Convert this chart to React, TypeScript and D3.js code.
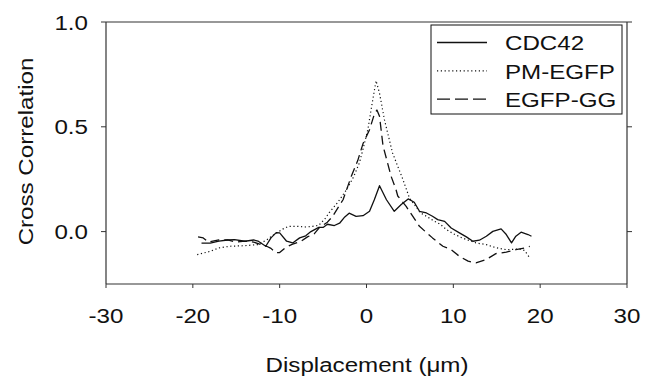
import React from "react";
import * as d3 from "d3";

const xTicks = [-30, -20, -10, 0, 10, 20, 30];
const yTicks = [0, 0.5, 1.0];
const yTickLabels = ["0.0", "0.5", "1.0"];
const seriesNames = ["CDC42", "PM-EGFP", "EGFP-GG"];

const cdc42X = [-19, -18, -17, -16, -15.2, -14, -13, -12.5, -11.6, -11, -10.4, -10, -9.2, -8.5, -7.7, -7, -6.4, -5.5, -5, -4.5, -3.7, -3.1, -2.5, -2, -1.2, -0.4, 0.35, 0.9, 1.5, 2.3, 3.2, 4, 4.8, 5.5, 6.1, 6.9, 7.6, 8.2, 9, 9.75, 10.7, 11.5, 12.25, 13, 13.8, 14.55, 15.5, 16.1, 16.7, 17.2, 17.8, 18.6, 19];
const cdc42Y = [-0.055, -0.055, -0.045, -0.04, -0.038, -0.046, -0.04, -0.045, -0.07, -0.03, -0.005, -0.006, -0.046, -0.054, -0.03, -0.02, 0.0, 0.02, 0.02, 0.035, 0.029, 0.04, 0.07, 0.088, 0.073, 0.076, 0.097, 0.152, 0.219, 0.152, 0.097, 0.129, 0.156, 0.14, 0.097, 0.089, 0.073, 0.057, 0.049, 0.017, -0.006, -0.025, -0.046, -0.041, -0.022, 0.001, 0.013, -0.014, -0.054, -0.022, -0.003, -0.014, -0.022];

const pmX = [-19.5, -18, -17, -15.8, -14, -12.5, -11.5, -10.5, -9.6, -9, -8, -7, -6.2, -5.5, -4.8, -4.3, -3.3, -2.3, -1.5, -0.8, -0.3, 0.15, 0.6, 1.1, 1.5, 2.07, 3.0, 4.2, 4.95, 5.5, 6.2, 6.9, 7.8, 8.5, 9.2, 10, 11, 12, 12.6, 13.8, 14.9, 16.1, 17.6, 18.2, 18.8];
const pmY = [-0.11, -0.094, -0.078, -0.07, -0.067, -0.062, -0.04, -0.01, 0.013, 0.025, 0.025, 0.022, 0.025, 0.03, 0.06, 0.09, 0.14, 0.2, 0.26, 0.33, 0.41, 0.486, 0.6, 0.72, 0.66, 0.533, 0.375, 0.248, 0.16, 0.13, 0.09, 0.073, 0.05, 0.035, 0.01, -0.01, -0.03, -0.045, -0.054, -0.062, -0.077, -0.086, -0.083, -0.09, -0.125];

const ggX = [-19.4, -18.8, -18.2, -17.7, -17, -16, -15, -14, -13, -12.3, -11.5, -11, -10.5, -10, -9.3, -8.5, -7.5, -6.8, -6, -5.4, -4.5, -3.9, -2.7, -1.76, -1, -0.4, 0.35, 0.9, 1.2, 1.5, 1.9, 2.84, 3.4, 3.6, 4.57, 6.1, 7.6, 8.8, 9.75, 10.7, 11.7, 12.6, 13.8, 14.9, 16.1, 17.2, 18.2, 18.8];
const ggY = [-0.025, -0.03, -0.05, -0.045, -0.04, -0.04, -0.05, -0.045, -0.05, -0.06, -0.07, -0.08, -0.1, -0.1, -0.075, -0.06, -0.045, -0.025, -0.01, 0.02, 0.045, 0.073, 0.152, 0.263, 0.34, 0.42, 0.486, 0.56, 0.58, 0.55, 0.41, 0.263, 0.2, 0.17, 0.12, 0.025, -0.03, -0.07, -0.086, -0.118, -0.141, -0.149, -0.133, -0.105, -0.098, -0.086, -0.078, -0.07];

const W = 653;
const H = 380;
const FONT = "'Liberation Sans', Arial, Helvetica, sans-serif";
const SX = 1.15;

export default function App() {
  const x = d3.scaleLinear().domain([-30, 30]).range([106, 627]);
  const y = d3.scaleLinear().domain([-0.25, 1.0]).range([284, 22]);
  const line = d3
    .line<[number, number]>()
    .x((d) => x(d[0]))
    .y((d) => y(d[1]));

  const series = [
    { name: seriesNames[0], xs: cdc42X, ys: cdc42Y, dash: undefined as string | undefined, w: 1.3 },
    { name: seriesNames[1], xs: pmX, ys: pmY, dash: "1.2,2.6", w: 1.2 },
    { name: seriesNames[2], xs: ggX, ys: ggY, dash: "9,5", w: 1.3 },
  ];

  const [x0, x1] = x.range();
  const [yb, yt] = y.range();
  const axisColor = "#333";

  const txt = (
    content: string,
    tx: number,
    ty: number,
    anchor: string,
    rotate = 0,
    key?: string
  ) => (
    <text
      key={key}
      transform={`translate(${tx},${ty}) rotate(${rotate}) scale(${SX},1)`}
      textAnchor={anchor}
      fontFamily={FONT}
      fontSize={21}
      fill="#111"
    >
      {content}
    </text>
  );

  return (
    <svg
      width={W}
      height={H}
      style={{ position: "absolute", left: 0, top: 0, background: "#fff" }}
    >
      <rect x={0} y={0} width={W} height={H} fill="#fff" />
      {/* frame */}
      <line x1={x0} x2={x1} y1={yb} y2={yb} stroke={axisColor} strokeWidth={1.2} />
      <line x1={x0} x2={x1} y1={yt} y2={yt} stroke={axisColor} strokeWidth={1.2} />
      <line x1={x0} x2={x0} y1={yt} y2={yb} stroke={axisColor} strokeWidth={1.2} />
      <line x1={x1} x2={x1} y1={yt} y2={yb} stroke={axisColor} strokeWidth={1.2} />
      {/* y ticks */}
      {yTicks.map((v, i) => (
        <g key={"y" + i}>
          <line x1={x0 - 5} x2={x0} y1={y(v)} y2={y(v)} stroke={axisColor} strokeWidth={1} />
          <line x1={x1} x2={x1 + 5} y1={y(v)} y2={y(v)} stroke={axisColor} strokeWidth={1} />
          {txt(yTickLabels[i], 88, y(v) + 7.5, "end")}
        </g>
      ))}
      {/* x ticks */}
      {xTicks.map((v, i) => (
        <g key={"x" + i}>
          <line x1={x(v)} x2={x(v)} y1={yb} y2={yb + 4} stroke={axisColor} strokeWidth={1} />
          {txt(String(v), x(v), 323, "middle")}
        </g>
      ))}
      {/* axis titles */}
      {txt("Cross Correlation", 33, 151.5, "middle", -90)}
      {txt("Displacement (\u03BCm)", 367, 371.5, "middle")}
      {/* series */}
      {series.map((s) => (
        <path
          key={s.name}
          d={line(s.xs.map((v, i) => [v, s.ys[i]] as [number, number])) || ""}
          fill="none"
          stroke="#111"
          strokeWidth={s.w}
          strokeDasharray={s.dash}
          strokeLinejoin="round"
        />
      ))}
      {/* legend */}
      <rect x={431} y={25} width={191} height={89} fill="#fff" stroke="#111" strokeWidth={1} />
      {series.map((s, i) => (
        <g key={"lg" + i}>
          <line
            x1={437}
            x2={487}
            y1={42.5 + i * 28.3}
            y2={42.5 + i * 28.3}
            stroke="#111"
            strokeWidth={s.w}
            strokeDasharray={s.dash === "9,5" ? "13,5" : s.dash}
          />
          {txt(s.name, 505, 50 + i * 28.5, "start")}
        </g>
      ))}
    </svg>
  );
}
